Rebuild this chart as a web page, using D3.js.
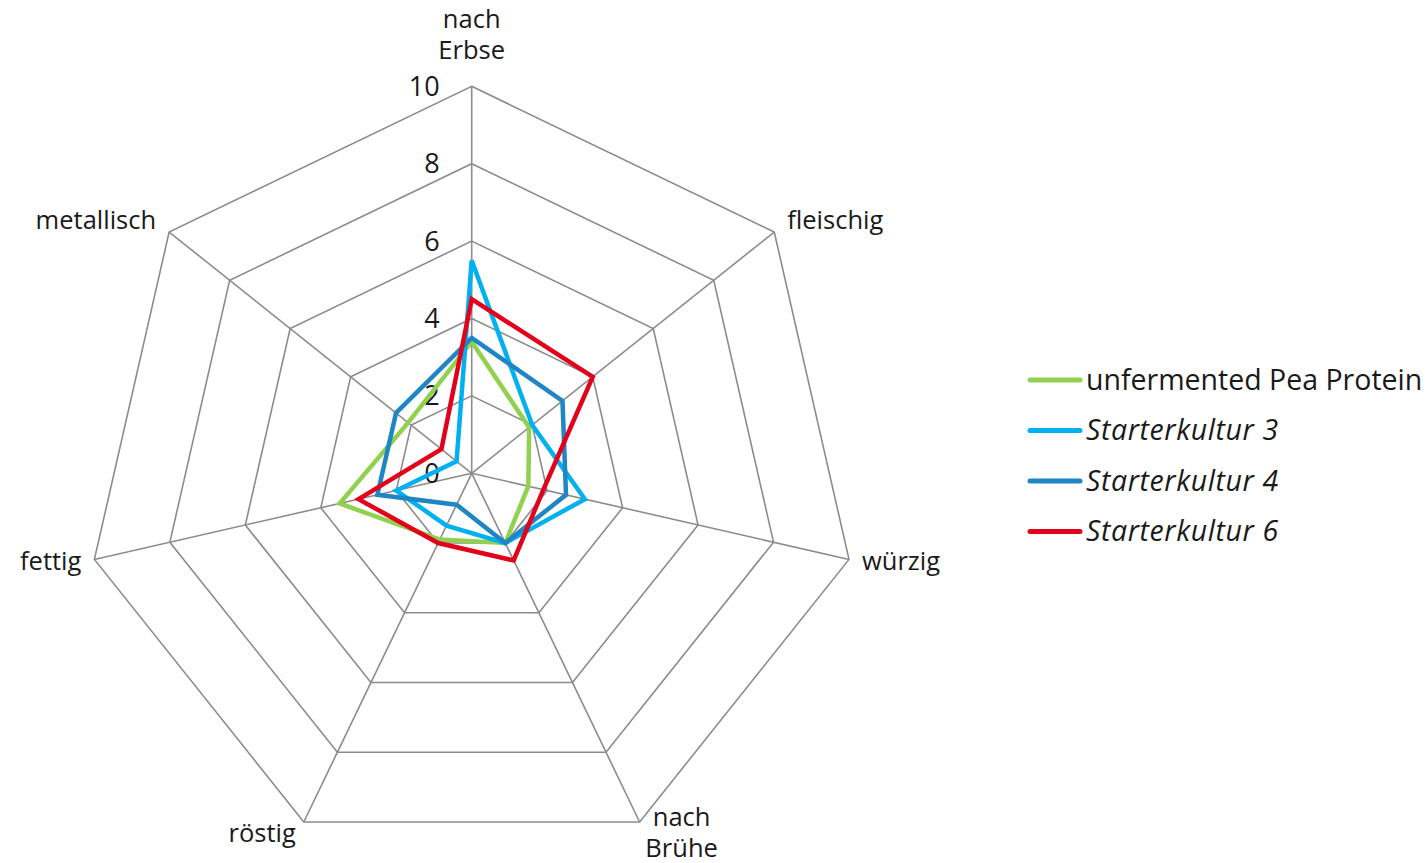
<!DOCTYPE html>
<html>
<head>
<meta charset="utf-8">
<script src="https://cdn.jsdelivr.net/npm/d3@7"></script>
<style>
  body { margin: 0; background: #fff; }
  svg text { font-family: "Open Sans", "Noto Sans", sans-serif; fill: #1a1a1a; }
</style>
</head>
<body>
<svg id="chart" width="1427" height="863"></svg>
<script>
// axes, clockwise from top
var axes = ["nach\nErbse", "fleischig", "würzig", "nach\nBrühe", "röstig", "fettig", "metallisch"];
var ticks = [0, 2, 4, 6, 8, 10];

var seriesNames = ["unfermented Pea Protein", "Starterkultur 3", "Starterkultur 4", "Starterkultur 6"];
var pea    = [3.4, 1.9, 1.5, 2.0, 1.9, 3.5, 2.1];
var sk3    = [5.5, 2.0, 3.0, 2.0, 1.5, 2.0, 0.5];
var sk4    = [3.5, 3.0, 2.5, 2.0, 0.9, 2.5, 2.5];
var sk6    = [4.5, 4.0, 1.9, 2.5, 2.0, 3.0, 1.0];
var colors = ["#92d050", "#00b0f0", "#1f86c6", "#e2001a"];

var series = [pea, sk3, sk4, sk6];

var svg = d3.select("#chart");
var cx = 471.7, cy = 473.3, radius = 387;

var r = d3.scaleLinear().domain([0, 10]).range([0, radius]);
var angle = d3.scaleLinear().domain([0, axes.length]).range([0, 2 * Math.PI]);

function pt(i, v) {
    var a = angle(i);
    return [cx + Math.sin(a) * r(v), cy - Math.cos(a) * r(v)];
}

var grid = svg.append("g");

// rings
ticks.slice(1).forEach(function(t) {
    var pts = axes.map(function(d, i) { return pt(i, t); });
    grid.append("polygon")
        .attr("points", pts.map(function(p) { return p.join(","); }).join(" "))
        .attr("fill", "none")
        .attr("stroke", "#8c8c8c")
        .attr("stroke-width", 1.6);
});

// spokes
axes.forEach(function(d, i) {
    var p = pt(i, 10);
    grid.append("line")
        .attr("x1", cx).attr("y1", cy)
        .attr("x2", p[0]).attr("y2", p[1])
        .attr("stroke", "#8c8c8c")
        .attr("stroke-width", 1.6);
});

// tick labels
svg.append("g").selectAll("text")
    .data(ticks)
    .enter().append("text")
    .attr("x", cx - 32)
    .attr("y", function(d) { return cy - r(d); })
    .attr("dy", "0.35em")
    .attr("text-anchor", "end")
    .style("font-size", "27px")
    .text(function(d) { return d; });

// axis labels
var lab = svg.append("g");
axes.forEach(function(d, i) {
    var a = angle(i);
    var s = Math.sin(a), c = Math.cos(a);
    var p = pt(i, 10);
    var lines = d.split("\n");
    var anchor, x, y;
    if (i === 0) { anchor = "middle"; x = p[0]; y = p[1] - 67; }
    else if (c < -0.5) {
        // bottom pair
        if (lines.length > 1) { anchor = "middle"; x = p[0] + 42; y = p[1] - 5; }
        else { anchor = "end"; x = p[0] - 8; y = p[1] + 11; }
    }
    else {
        anchor = s > 0 ? "start" : "end";
        x = p[0] + (s > 0 ? 13 : -13);
        y = p[1] + (c > 0 ? -12 : 2);
    }
    var t = lab.append("text")
        .attr("text-anchor", anchor)
        .attr("x", x)
        .attr("y", y)
        .style("font-size", "25.5px");
    lines.forEach(function(l, k) {
        t.append("tspan")
            .attr("x", x)
            .attr("dy", k === 0 ? "0.35em" : "1.22em")
            .text(l);
    });
});

// series
var line = d3.line().curve(d3.curveLinearClosed);
svg.append("g").selectAll("path")
    .data(series)
    .enter().append("path")
    .attr("d", function(vals) { return line(vals.map(function(v, i) { return pt(i, v); })); })
    .attr("fill", "none")
    .attr("stroke", function(d, i) { return colors[i]; })
    .attr("stroke-width", 4.5)
    .attr("stroke-linejoin", "miter");

// legend
var leg = svg.append("g").attr("transform", "translate(1028,380)");
var item = leg.selectAll("g")
    .data(seriesNames)
    .enter().append("g")
    .attr("transform", function(d, i) { return "translate(0," + (i * 50.5) + ")"; });

item.append("line")
    .attr("x1", 2).attr("x2", 52)
    .attr("stroke", function(d, i) { return colors[i]; })
    .attr("stroke-width", 5)
    .attr("stroke-linecap", "round");

item.append("text")
    .attr("x", 58)
    .attr("dy", "0.35em")
    .style("font-size", "28.5px")
    .style("font-style", function(d, i) { return i === 0 ? "normal" : "italic"; })
    .style("letter-spacing", function(d, i) { return i === 0 ? "0px" : "0.6px"; })
    .text(function(d) { return d; });
</script>
</body>
</html>
